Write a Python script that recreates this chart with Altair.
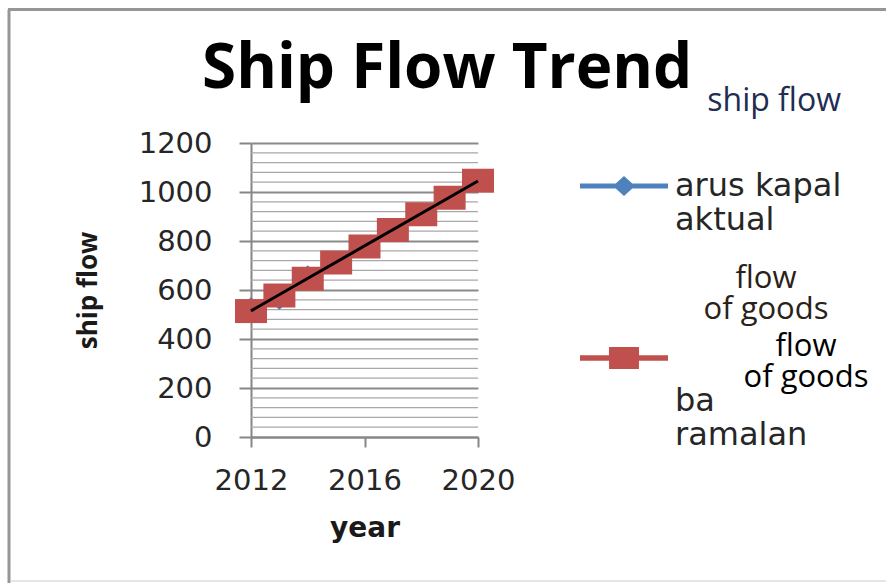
import altair as alt
import pandas as pd

# ---------------- data ----------------
years = [2012, 2013, 2014, 2015, 2016, 2017, 2018, 2019, 2020]
ramalan = [514, 578, 646, 712, 778, 845, 909, 977, 1046]
aktual_years = [2012, 2013, 2014]
aktual = [550, 540, 680]
trend_years = [2012, 2020]
trend_values = [515, 1045]
series_names = ["arus kapal aktual", "barang ramalan"]
series_colors = ["#4f81bd", "#c0504d"]
x_ticks = [2012, 2016, 2020]
y_ticks = [0, 200, 400, 600, 800, 1000, 1200]
minor_grid = [v for v in range(0, 1201, 40) if v % 200 != 0]
overlay_1 = ["flow", "of goods"]
overlay_2 = ["flow", "of goods"]

# ---------------- layout ----------------
X0, Y0 = 251, 143          # plot origin in page pixels
W, H = 227, 294            # plot area size

df_r = pd.DataFrame({"year": years, "value": ramalan})
df_a = pd.DataFrame({"year": aktual_years, "value": aktual})
df_t = pd.DataFrame({"year": trend_years, "value": trend_values})
df_g = pd.DataFrame({"value": minor_grid})
df_leg = pd.DataFrame({"series": series_names})
one = pd.DataFrame({"k": [0]})

xs = alt.Scale(domain=[2012, 2020], nice=False, zero=False)
ys = alt.Scale(domain=[0, 1200], nice=False, zero=False)

axis_col = "#868686"
x_axis = alt.Axis(
    values=x_ticks, format="d", grid=False, labelFlush=False,
    labelFont="DejaVu Sans", labelFontSize=29, labelColor="#262626",
    labelPadding=19, tickSize=10, tickColor=axis_col, tickWidth=2,
    domainColor=axis_col, domainWidth=2,
    title="year", titleFont="DejaVu Sans", titleFontSize=28, titleFontWeight="bold",
    titleColor="#1a1a1a", titleBaseline="alphabetic", titleY=99, titleX=W / 2,
)
y_axis = alt.Axis(
    values=y_ticks, format="d", grid=True, gridColor="#8a8a8a", gridWidth=1.8,
    labelFont="DejaVu Sans", labelFontSize=29, labelColor="#262626",
    labelPadding=27, tickSize=12, tickColor=axis_col, tickWidth=2,
    domainColor=axis_col, domainWidth=2,
    title="ship flow", titleFont="Open Sans", titleFontSize=26, titleFontWeight="bold",
    titleColor="#1a1a1a", titleAngle=270, titleAlign="center", titleBaseline="middle",
    titleX=-163, titleY=H / 2,
)

X = alt.X("year:Q", scale=xs, axis=x_axis)
Y = alt.Y("value:Q", scale=ys, axis=y_axis)

# frame around the whole picture
frame_left = alt.Chart(one).mark_rule(color="#969696", strokeWidth=3).encode(
    x=alt.value(9 - X0), y=alt.value(9.5 - Y0), y2=alt.value(583 - Y0))
frame_top = alt.Chart(one).mark_rule(color="#969696", strokeWidth=3).encode(
    x=alt.value(8 - X0), x2=alt.value(886 - X0), y=alt.value(9.5 - Y0))
frame_bottom = alt.Chart(one).mark_rule(color="#dcdcdc", strokeWidth=1.5).encode(
    x=alt.value(11 - X0), x2=alt.value(886 - X0), y=alt.value(581 - Y0))

minor = alt.Chart(df_g).mark_rule(color="#a8a8a8", strokeWidth=1.2).encode(y=Y)

blue_line = alt.Chart(df_a).mark_line(color=series_colors[0], strokeWidth=2.5).encode(x=X, y=Y)
blue_pts = alt.Chart(df_a).mark_point(shape="diamond", filled=True, size=110, opacity=1,
                                      color=series_colors[0]).encode(x=X, y=Y)

red_pts = alt.Chart(df_r).mark_point(shape="M-1,-0.75H1V0.75H-1Z", filled=True, size=1024,
                                     opacity=1, color=series_colors[1], strokeWidth=0).encode(x=X, y=Y)

trend = alt.Chart(df_t).mark_line(color="black", strokeWidth=3).encode(x=X, y=Y)

txt1 = alt.Chart(one).mark_text(text=overlay_1, font="Open Sans", fontSize=31, lineHeight=31,
                                align="center", baseline="alphabetic", color="#2a2218").encode(
    x=alt.value(766 - X0), y=alt.value(288 - Y0))
txt2 = alt.Chart(one).mark_text(text=overlay_2, font="Open Sans", fontSize=31, lineHeight=31,
                                align="center", baseline="alphabetic", color="#000000").encode(
    x=alt.value(806 - X0), y=alt.value(356 - Y0))

# legend symbols: a short line with the marker in the middle (unit box = 88 px)
shape_paths = [
    "M-1,-0.057H1V0.057H-1Z M0,-0.23L0.25,0L0,0.23L-0.25,0Z",
    "M-1,-0.267H1V-0.143H-1Z M-0.34,-0.455H0.34V0.045H-0.34Z",
]
leg = alt.Legend(
    title="ship flow", orient="none", legendX=580 - X0, legendY=86 - Y0,
    direction="vertical", padding=0,
    titleFont="Open Sans", titleFontSize=32, titleFontWeight="normal", titleColor="#1f2d52",
    titleAnchor="end", titlePadding=24, titleLimit=400,
    labelFont="DejaVu Sans", labelFontSize=32, labelColor="#262626", labelLimit=400,
    labelBaseline="middle", labelOffset=7,
    labelExpr="datum.value == 'arus kapal aktual' ? ['arus kapal', 'aktual'] : ['\u00a0', 'ba', 'ramalan']",
    symbolSize=7744, symbolStrokeWidth=0, symbolOpacity=1, rowPadding=87,
)
legend_layer = alt.Chart(df_leg).mark_point(filled=True).encode(
    color=alt.Color("series:N", scale=alt.Scale(domain=series_names, range=series_colors), legend=leg),
    shape=alt.Shape("series:N", scale=alt.Scale(domain=series_names, range=shape_paths), legend=leg),
).transform_filter("false")

chart = alt.layer(
    frame_left, frame_top, frame_bottom, minor, blue_line, blue_pts, red_pts, trend,
    txt1, txt2, legend_layer,
).properties(
    width=W, height=H,
    autosize=alt.AutoSizeParams(type="none"),
    padding={"left": X0, "top": Y0, "right": 886 - X0 - W, "bottom": 583 - Y0 - H},
    title=alt.TitleParams("Ship Flow Trend", font="Open Sans", fontSize=62, fontWeight="bold",
                          color="black", anchor="start", frame="group", dx=-49, offset=-142,
                          baseline="alphabetic"),
    background="white",
).configure_view(stroke=None)

chart.save("out.html", embed_options={"renderer": "svg", "actions": False})
